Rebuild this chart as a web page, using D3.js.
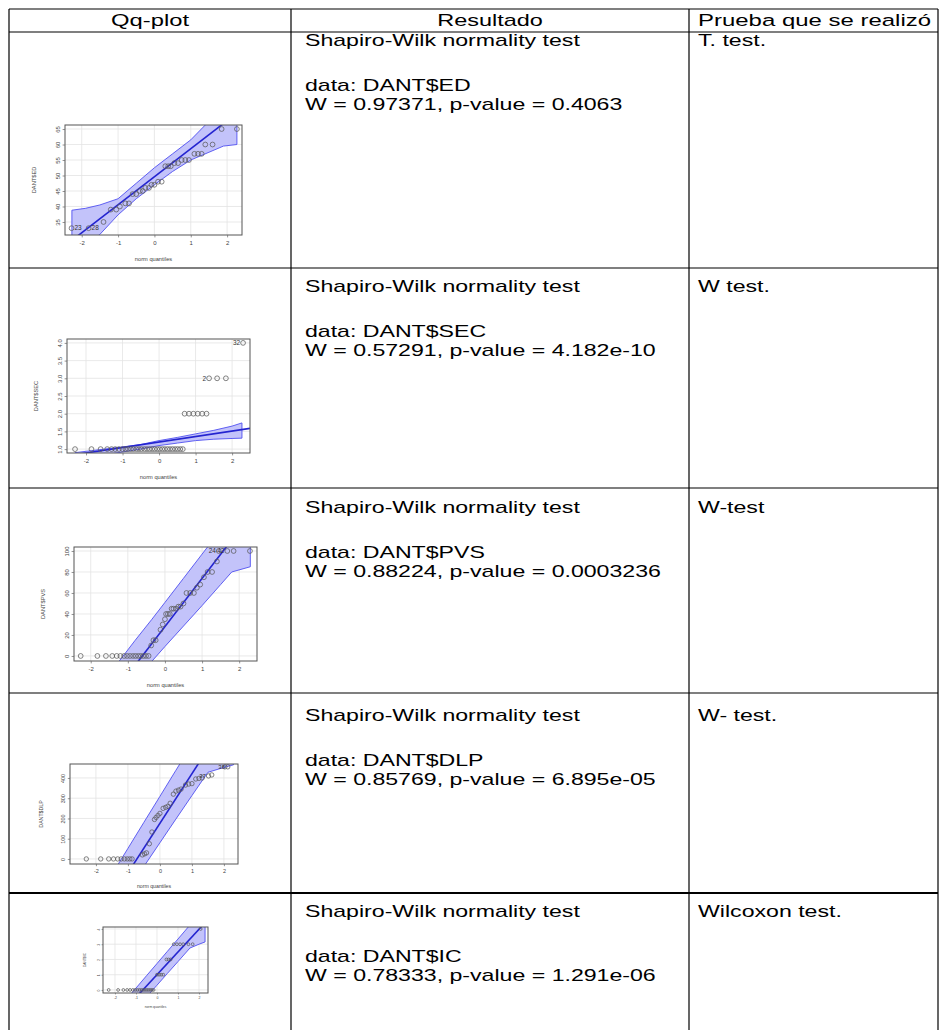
<!DOCTYPE html>
<html>
<head>
<meta charset="utf-8">
<script src="https://cdn.jsdelivr.net/npm/d3@7"></script>
<style>
  body { margin: 0; background: #fff; }
  svg { display: block; }
</style>
</head>
<body>
<div id="chart"></div>
<script>
// table content
const headers = ['Qq-plot', 'Resultado', 'Prueba que se realizó'];
const variables = ['DANT$ED', 'DANT$SEC', 'DANT$PVS', 'DANT$DLP', 'DANT$IC'];
const wValues = ['0.97371', '0.57291', '0.88224', '0.85769', '0.78333'];
const pValues = ['0.4063', '4.182e-10', '0.0003236', '6.895e-05', '1.291e-06'];
const testsDone = ['T. test.', 'W test.', 'W-test', 'W- test.', 'Wilcoxon test.'];

// qq-plot axes
const xTicks = [-2, -1, 0, 1, 2];
const edTicks = [35, 40, 45, 50, 55, 60, 65];
const secTicks = [1.0, 1.5, 2.0, 2.5, 3.0, 3.5, 4.0];
const pvsTicks = [0, 20, 40, 60, 80, 100];
const dlpTicks = [0, 100, 200, 300, 400];
const icTicks = [0, 1, 2, 3, 4];

// points: [theoretical quantile, value, label]
const edPoints = [[-2.28, 33, '23'], [-1.81, 33, '28'], [-1.4, 35], [-1.2, 39], [-1.05, 39], [-0.95, 40],
  [-0.8, 41], [-0.7, 41], [-0.6, 44], [-0.5, 44], [-0.4, 45], [-0.32, 45], [-0.25, 46], [-0.15, 46],
  [-0.08, 47], [0, 47], [0.1, 48], [0.2, 48], [0.3, 53], [0.38, 53], [0.45, 53], [0.55, 54], [0.65, 54],
  [0.75, 55], [0.85, 55], [0.95, 55], [1.1, 57], [1.2, 57], [1.3, 57], [1.4, 60], [1.6, 60],
  [1.85, 65], [2.27, 65]];
const secPoints = [[-2.3, 1], [-1.85, 1], [-1.6, 1], [-1.42, 1], [-1.3, 1], [-1.2, 1], [-1.1, 1], [-1.0, 1],
  [-0.92, 1], [-0.85, 1], [-0.77, 1], [-0.7, 1], [-0.62, 1], [-0.55, 1], [-0.48, 1], [-0.4, 1], [-0.33, 1],
  [-0.26, 1], [-0.19, 1], [-0.12, 1], [-0.05, 1], [0.02, 1], [0.09, 1], [0.16, 1], [0.23, 1], [0.3, 1],
  [0.37, 1], [0.44, 1], [0.51, 1], [0.58, 1], [0.65, 1], [0.7, 2], [0.82, 2], [0.94, 2], [1.06, 2],
  [1.18, 2], [1.3, 2], [1.37, 3, '2'], [1.59, 3], [1.83, 3], [2.3, 4, '32']];
const pvsPoints = [[-2.27, 0], [-1.82, 0], [-1.59, 0], [-1.42, 0], [-1.3, 0], [-1.2, 0], [-1.1, 0], [-1.02, 0],
  [-0.94, 0], [-0.86, 0], [-0.79, 0], [-0.72, 0], [-0.65, 0], [-0.58, 0], [-0.51, 0], [-0.44, 0],
  [-0.37, 10], [-0.31, 15], [-0.25, 15], [-0.12, 25], [-0.06, 30], [0, 35], [0.03, 40], [0.08, 40],
  [0.13, 40], [0.18, 45], [0.23, 45], [0.3, 45], [0.36, 47], [0.42, 47], [0.5, 50], [0.58, 60], [0.68, 60],
  [0.78, 60], [0.86, 65], [0.95, 68], [1.05, 75], [1.15, 80], [1.27, 80], [1.4, 90],
  [1.45, 100, '24'], [1.68, 100, '42'], [1.85, 100], [2.29, 100]];
const dlpPoints = [[-2.3, 0], [-1.85, 0], [-1.6, 0], [-1.45, 0], [-1.32, 0], [-1.21, 0], [-1.11, 0],
  [-1.02, 0], [-0.94, 0], [-0.87, 0], [-0.55, 20], [-0.48, 25], [-0.42, 30], [-0.33, 75], [-0.25, 133],
  [-0.17, 195], [-0.12, 205], [-0.06, 215], [0.0, 225], [0.1, 250], [0.18, 255], [0.25, 260], [0.32, 275],
  [0.42, 320], [0.5, 335], [0.58, 340], [0.66, 345], [0.8, 365], [0.9, 370], [1.0, 372], [1.12, 395],
  [1.22, 398], [1.32, 400], [1.52, 410, '37'], [1.62, 415], [2.03, 455], [2.12, 455, '38']];
const icPoints = [[-2.3, 0], [-1.85, 0], [-1.6, 0], [-1.42, 0], [-1.28, 0], [-1.15, 0], [-1.04, 0], [-0.94, 0],
  [-0.84, 0], [-0.75, 0], [-0.66, 0], [-0.57, 0], [-0.48, 0], [-0.4, 0], [-0.32, 0], [-0.24, 0], [-0.16, 0],
  [0.0, 1], [0.1, 1], [0.2, 1], [0.3, 1], [0.45, 2], [0.55, 2], [0.65, 2], [0.8, 3], [0.95, 3], [1.1, 3],
  [1.25, 3], [1.5, 3], [1.7, 3], [2.08, 4]];

// confidence envelopes: [quantile, lower, upper]
const edBand = [[-2.27, 24, 38.8], [-1.9, 27.5, 39.4], [-1.5, 31, 40.5], [-1, 37.3, 42.5], [-0.5, 42.5, 47.5],
  [0, 47, 52.5], [0.5, 51.3, 57], [1, 55, 61.5], [1.5, 57.5, 67.5], [1.9, 59.5, 71], [2.27, 60, 74]];
const secBand = [[-2.3, 0.7, 0.9], [-1.5, 0.83, 1.0], [-1, 0.92, 1.06], [-0.5, 1.0, 1.13], [0, 1.1, 1.24],
  [0.5, 1.17, 1.33], [1, 1.24, 1.43], [1.5, 1.28, 1.53], [2, 1.3, 1.65], [2.27, 1.31, 1.74]];
const pvsBand = [[-1.3, -42, -8], [-0.8, -22, 15], [-0.35, -5, 35], [0, 9, 51], [0.5, 28.5, 74], [1, 48, 97],
  [1.5, 68, 120], [1.8, 80, 134], [2.3, 85, 157]];
const dlpBand = [[-1.5, -270, -76], [-1, -153, 52], [-0.5, -37, 181], [0, 80, 309], [0.5, 197, 438],
  [1, 313, 566], [1.5, 428, 695], [2, 452, 823], [2.3, 465, 900]];
const icBand = [[-1.3, -1.7, -0.36], [-1, -1.24, 0.12], [-0.5, -0.46, 0.93], [0, 0.31, 1.73], [0.5, 1.09, 2.54],
  [1, 1.86, 3.34], [1.57, 2.75, 4.26], [2, 3.0, 4.95], [2.29, 3.15, 5.4]];

// fitted reference lines: [intercept, slope]
const edFit = [49.6, 9.04];
const secFit = [1.2, 0.155];
const pvsFit = [28, 45.9];
const dlpFit = [176, 245];
const icFit = [1.0, 1.49];

const width = 940;
const height = 1030;
const rowLines = [9, 32, 268, 488, 693, 893];
const colLines = [9, 291, 689, 938];
const rowTextOffset = [14, 24, 25, 28, 24];
const textScale = 1.36;

const plots = [
  { points: edPoints, band: edBand, fit: edFit, ticks: edTicks, fmt: d3.format('d'),
    box: [65, 242, 125, 235], xDomain: [-2.46, 2.41], yDomain: [30.8, 66.3], size: 6 },
  { points: secPoints, band: secBand, fit: secFit, ticks: secTicks, fmt: d3.format('.1f'),
    box: [67, 250, 339, 453], xDomain: [-2.52, 2.49], yDomain: [0.89, 4.11], size: 6 },
  { points: pvsPoints, band: pvsBand, fit: pvsFit, ticks: pvsTicks, fmt: d3.format('d'),
    box: [74, 257, 547, 661], xDomain: [-2.45, 2.48], yDomain: [-4.8, 103.8], size: 6 },
  { points: dlpPoints, band: dlpBand, fit: dlpFit, ticks: dlpTicks, fmt: d3.format('d'),
    box: [70, 238, 764, 864], xDomain: [-2.81, 2.44], yDomain: [-25, 469], size: 5.5 },
  { points: icPoints, band: icBand, fit: icFit, ticks: icTicks, fmt: d3.format('d'),
    box: [103, 208, 927, 993], xDomain: [-2.57, 2.43], yDomain: [-0.2, 4.13], size: 3.5 },
];

const svg = d3.select('#chart').append('svg')
  .attr('width', width)
  .attr('height', height)
  .attr('viewBox', `0 0 ${width} ${height}`)
  .style('font-family', '"Liberation Sans", Arial, sans-serif');

const defs = svg.append('defs');

function drawQQ(spec, i) {
  const [left, right, top, bottom] = spec.box;
  const x = d3.scaleLinear().domain(spec.xDomain).range([left, right]);
  const y = d3.scaleLinear().domain(spec.yDomain).range([bottom, top]);
  const s = spec.size;
  const g = svg.append('g').attr('class', 'qq');

  defs.append('clipPath').attr('id', `clip${i}`)
    .append('rect').attr('x', left).attr('y', top)
    .attr('width', right - left).attr('height', bottom - top);

  const inner = g.append('g').attr('clip-path', `url(#clip${i})`);

  inner.selectAll('.vgrid').data(xTicks).join('line')
    .attr('x1', d => x(d)).attr('x2', d => x(d))
    .attr('y1', top).attr('y2', bottom)
    .attr('stroke', '#e3e3e3').attr('stroke-width', 0.8);
  inner.selectAll('.hgrid').data(spec.ticks).join('line')
    .attr('x1', left).attr('x2', right)
    .attr('y1', d => y(d)).attr('y2', d => y(d))
    .attr('stroke', '#e3e3e3').attr('stroke-width', 0.8);

  const area = d3.area().x(d => x(d[0])).y0(d => y(d[1])).y1(d => y(d[2]));
  inner.append('path').datum(spec.band)
    .attr('d', area)
    .attr('fill', '#c3c3fa')
    .attr('stroke', '#5050f0')
    .attr('stroke-width', 0.9);

  const [a, b] = spec.fit;
  inner.append('line')
    .attr('x1', left).attr('y1', y(a + b * spec.xDomain[0]))
    .attr('x2', right).attr('y2', y(a + b * spec.xDomain[1]))
    .attr('stroke', '#2424d0').attr('stroke-width', 1.6);

  const r = s * 0.4;
  g.selectAll('.pt').data(spec.points).join('circle')
    .attr('cx', d => x(d[0])).attr('cy', d => y(d[1]))
    .attr('r', r)
    .attr('fill', 'none').attr('stroke', '#5a5a5a').attr('stroke-width', 0.75);

  g.selectAll('.ptlab').data(spec.points.filter(d => d[2])).join('text')
    .attr('x', d => d[0] < 0 ? x(d[0]) + r + 0.5 : x(d[0]) - r - 0.5)
    .attr('y', d => y(d[1]))
    .attr('dy', '0.35em')
    .attr('text-anchor', d => d[0] < 0 ? 'start' : 'end')
    .attr('font-size', s + 0.5)
    .attr('fill', '#333')
    .text(d => d[2]);

  g.append('rect')
    .attr('x', left).attr('y', top)
    .attr('width', right - left).attr('height', bottom - top)
    .attr('fill', 'none').attr('stroke', '#555').attr('stroke-width', 1);

  const xAxis = d3.axisBottom(x).tickValues(xTicks).tickSize(s * 0.4).tickPadding(s * 0.5)
    .tickFormat(d => String(d));
  const gx = g.append('g').attr('transform', `translate(0,${bottom})`).call(xAxis);
  const yAxis = d3.axisLeft(y).tickValues(spec.ticks).tickSize(s * 0.4).tickPadding(s * 0.5)
    .tickFormat(spec.fmt);
  const gy = g.append('g').attr('transform', `translate(${left},0)`).call(yAxis);

  [gx, gy].forEach(ax => {
    ax.select('.domain').remove();
    ax.selectAll('line').attr('stroke', '#666').attr('stroke-width', 0.7);
    ax.selectAll('text').attr('font-size', s).attr('fill', '#444')
      .style('font-family', '"Liberation Sans", Arial, sans-serif');
  });
  gy.selectAll('.tick text')
    .attr('transform', `rotate(-90,${-s * 0.9},0)`)
    .attr('x', -s * 0.9).attr('dy', 0)
    .attr('text-anchor', 'middle');

  g.append('text')
    .attr('x', (left + right) / 2).attr('y', bottom + s * 4.3)
    .attr('text-anchor', 'middle')
    .attr('font-size', s * 0.95).attr('fill', '#444')
    .text('norm quantiles');

  g.append('text')
    .attr('transform', `translate(${left - s * 4.9},${(top + bottom) / 2}) rotate(-90)`)
    .attr('text-anchor', 'middle')
    .attr('font-size', s * 0.95).attr('fill', '#444')
    .text(variables[i]);
}

// table frame
svg.append('g').selectAll('line').data(rowLines).join('line')
  .attr('x1', colLines[0]).attr('x2', colLines[3])
  .attr('y1', d => d).attr('y2', d => d)
  .attr('stroke', '#000').attr('stroke-width', (d, i) => i === 5 ? 2 : 1.2);
svg.append('g').selectAll('line').data(colLines).join('line')
  .attr('x1', d => d).attr('x2', d => d)
  .attr('y1', rowLines[0]).attr('y2', height)
  .attr('stroke', '#000').attr('stroke-width', 1.2);

plots.forEach(drawQQ);

function addText(str, x, y, anchor, size, sx) {
  svg.append('text')
    .attr('transform', `translate(${x},${y}) scale(${sx || textScale},1)`)
    .attr('text-anchor', anchor || 'start')
    .attr('font-size', size || 17)
    .attr('fill', '#000')
    .text(str);
}

// header
addText(headers[0], (colLines[0] + colLines[1]) / 2, 26, 'middle', 17, 1.4);
addText(headers[1], (colLines[1] + colLines[2]) / 2, 26, 'middle', 17, 1.38);
addText(headers[2], colLines[2] + 9, 26, 'start', 17, 1.41);

// body rows
variables.forEach((v, i) => {
  const base = rowLines[i + 1] + rowTextOffset[i];
  addText('Shapiro-Wilk normality test', colLines[1] + 14, base);
  addText(`data: ${v}`, colLines[1] + 14, base + 45);
  addText(`W = ${wValues[i]}, p-value = ${pValues[i]}`, colLines[1] + 14, base + 64);
  addText(testsDone[i], colLines[2] + 9, base);
});
</script>
</body>
</html>
